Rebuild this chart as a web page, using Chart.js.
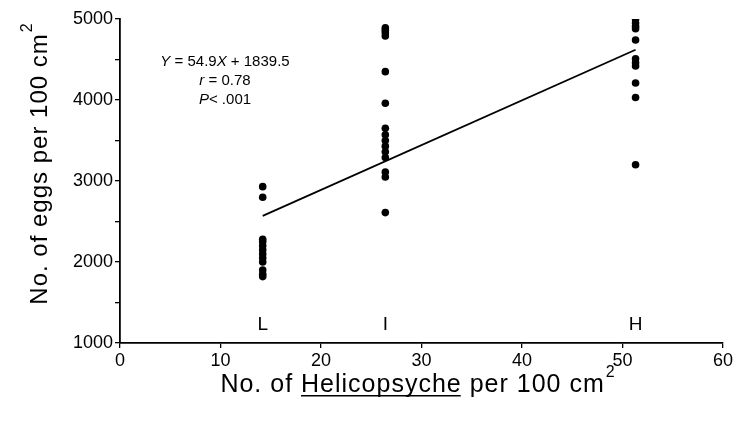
<!DOCTYPE html>
<html>
<head>
<meta charset="utf-8">
<script src="https://cdn.jsdelivr.net/npm/chart.js@4.4.1/dist/chart.umd.min.js"></script>
<style>
  html, body { margin: 0; padding: 0; background: #fff; }
  #wrap { width: 737px; height: 421px; }
</style>
</head>
<body>
<div id="wrap"><canvas id="chart"></canvas></div>
<script>
// density groups (Helicopsyche per 100 cm2) and egg counts
const groupLabels = ['L', 'I', 'H'];
const groupX = [14.2, 26.4, 51.3];
const eggsL = [2930, 2800, 2280, 2250, 2200, 2150, 2100, 2050, 2000, 1900, 1850, 1820];
const eggsI = [4890, 4860, 4830, 4790, 4350, 3960, 3650, 3570, 3500, 3430, 3360, 3290, 3110, 3050, 2610];
const eggsH = [5000, 4950, 4910, 4880, 4740, 4510, 4460, 4420, 4210, 4030, 3200];

// fitted line Y = 54.9X + 1839.5, ends as drawn in the figure
const fitX = [14.2, 51.3];
const fitY = [2570, 4620];
const groupLabelY = 1220;

const FONT = '"Liberation Sans", Arial, Helvetica, sans-serif';

const pts = (x, ys) => ys.map(y => ({ x, y }));
const dotStyle = { pointRadius: 3.8, pointHoverRadius: 3.8, backgroundColor: '#000', borderColor: '#000', borderWidth: 0, showLine: false };

function drawSegments(ctx, segs, cx, y, size) {
  let total = 0;
  segs.forEach(s => {
    ctx.font = (s.i ? 'italic ' : '') + size + 'px ' + FONT;
    s.w = ctx.measureText(s.t).width;
    total += s.w;
  });
  let x = cx - total / 2;
  segs.forEach(s => {
    ctx.font = (s.i ? 'italic ' : '') + size + 'px ' + FONT;
    ctx.fillText(s.t, x, y);
    x += s.w;
  });
}

const extras = {
  id: 'extras',
  afterDraw(chart) {
    const { ctx, chartArea, scales: { x, y } } = chart;
    ctx.save();
    ctx.fillStyle = '#000';
    ctx.textBaseline = 'middle';
    ctx.textAlign = 'left';

    // regression text
    drawSegments(ctx, [{ t: 'Y', i: true }, { t: ' = 54.9' }, { t: 'X', i: true }, { t: ' + 1839.5' }], 225, 62, 15);
    drawSegments(ctx, [{ t: 'r', i: true }, { t: ' = 0.78' }], 225, 81, 15);
    drawSegments(ctx, [{ t: 'P', i: true }, { t: '< .001' }], 225, 100, 15);

    // group letters
    ctx.font = '19px ' + FONT;
    ctx.textAlign = 'center';
    groupLabels.forEach((l, i) => {
      ctx.fillText(l, x.getPixelForValue(groupX[i]), y.getPixelForValue(groupLabelY));
    });

    // x axis title with underlined genus
    ctx.letterSpacing = '1px';
    const cx = (chartArea.left + chartArea.right) / 2 - 4;
    const ty = 385;
    const big = '25px ' + FONT, sup = '16px ' + FONT;
    ctx.font = big;
    const parts = ['No. of ', 'Helicopsyche', ' per 100 cm'];
    const widths = parts.map(p => ctx.measureText(p).width);
    ctx.font = sup;
    const supW = ctx.measureText('2').width;
    let xx = cx - (widths.reduce((a, b) => a + b, 0) + supW) / 2;
    ctx.textAlign = 'left';
    ctx.font = big;
    parts.forEach((p, i) => {
      ctx.fillText(p, xx, ty);
      if (i === 1) {
        ctx.fillRect(xx, ty + 10, widths[i] - 1, 1.5);
      }
      xx += widths[i];
    });
    ctx.font = sup;
    ctx.fillText('2', xx + 1, ty - 12);

    // y axis title
    const ybig = '24px ' + FONT;
    ctx.translate(40, 164);
    ctx.rotate(-Math.PI / 2);
    ctx.font = ybig;
    const ytxt = 'No. of eggs per 100 cm';
    const yw = ctx.measureText(ytxt).width;
    const x0 = -(yw + supW) / 2;
    ctx.fillText(ytxt, x0, 0);
    ctx.font = sup;
    ctx.fillText('2', x0 + yw + 1, -12);
    ctx.restore();
  }
};

new Chart(document.getElementById('chart'), {
  type: 'scatter',
  data: {
    datasets: [
      { label: 'L', data: pts(groupX[0], eggsL), ...dotStyle },
      { label: 'I', data: pts(groupX[1], eggsI), ...dotStyle },
      { label: 'H', data: pts(groupX[2], eggsH), ...dotStyle },
      {
        label: 'fit',
        data: fitX.map((x, i) => ({ x, y: fitY[i] })),
        showLine: true,
        borderColor: '#000',
        borderWidth: 1.8,
        pointRadius: 0,
        pointHoverRadius: 0,
      },
    ],
  },
  options: {
    responsive: true,
    maintainAspectRatio: false,
    animation: false,
    layout: { padding: { top: 19, right: 14, left: 0, bottom: 0 } },
    plugins: { legend: { display: false }, tooltip: { enabled: false } },
    scales: {
      x: {
        type: 'linear',
        min: 0,
        max: 60,
        afterFit: s => { s.height = 78; },
        ticks: { stepSize: 10, color: '#000', font: { size: 18, family: FONT }, padding: 2 },
        grid: { drawOnChartArea: false, drawTicks: true, tickLength: 5, color: '#000', lineWidth: 1.3 },
        border: { display: true, color: '#000', width: 1.8 },
      },
      y: {
        type: 'linear',
        min: 1000,
        max: 5000,
        afterFit: s => { s.width = 120; },
        ticks: {
          stepSize: 500,
          color: '#000',
          font: { size: 18, family: FONT },
          padding: 2,
          callback: v => (v % 1000 === 0 ? v : ''),
        },
        grid: { drawOnChartArea: false, drawTicks: true, tickLength: 5, color: '#000', lineWidth: 1.3 },
        border: { display: true, color: '#000', width: 1.8 },
      },
    },
  },
  plugins: [extras],
});
</script>
</body>
</html>
